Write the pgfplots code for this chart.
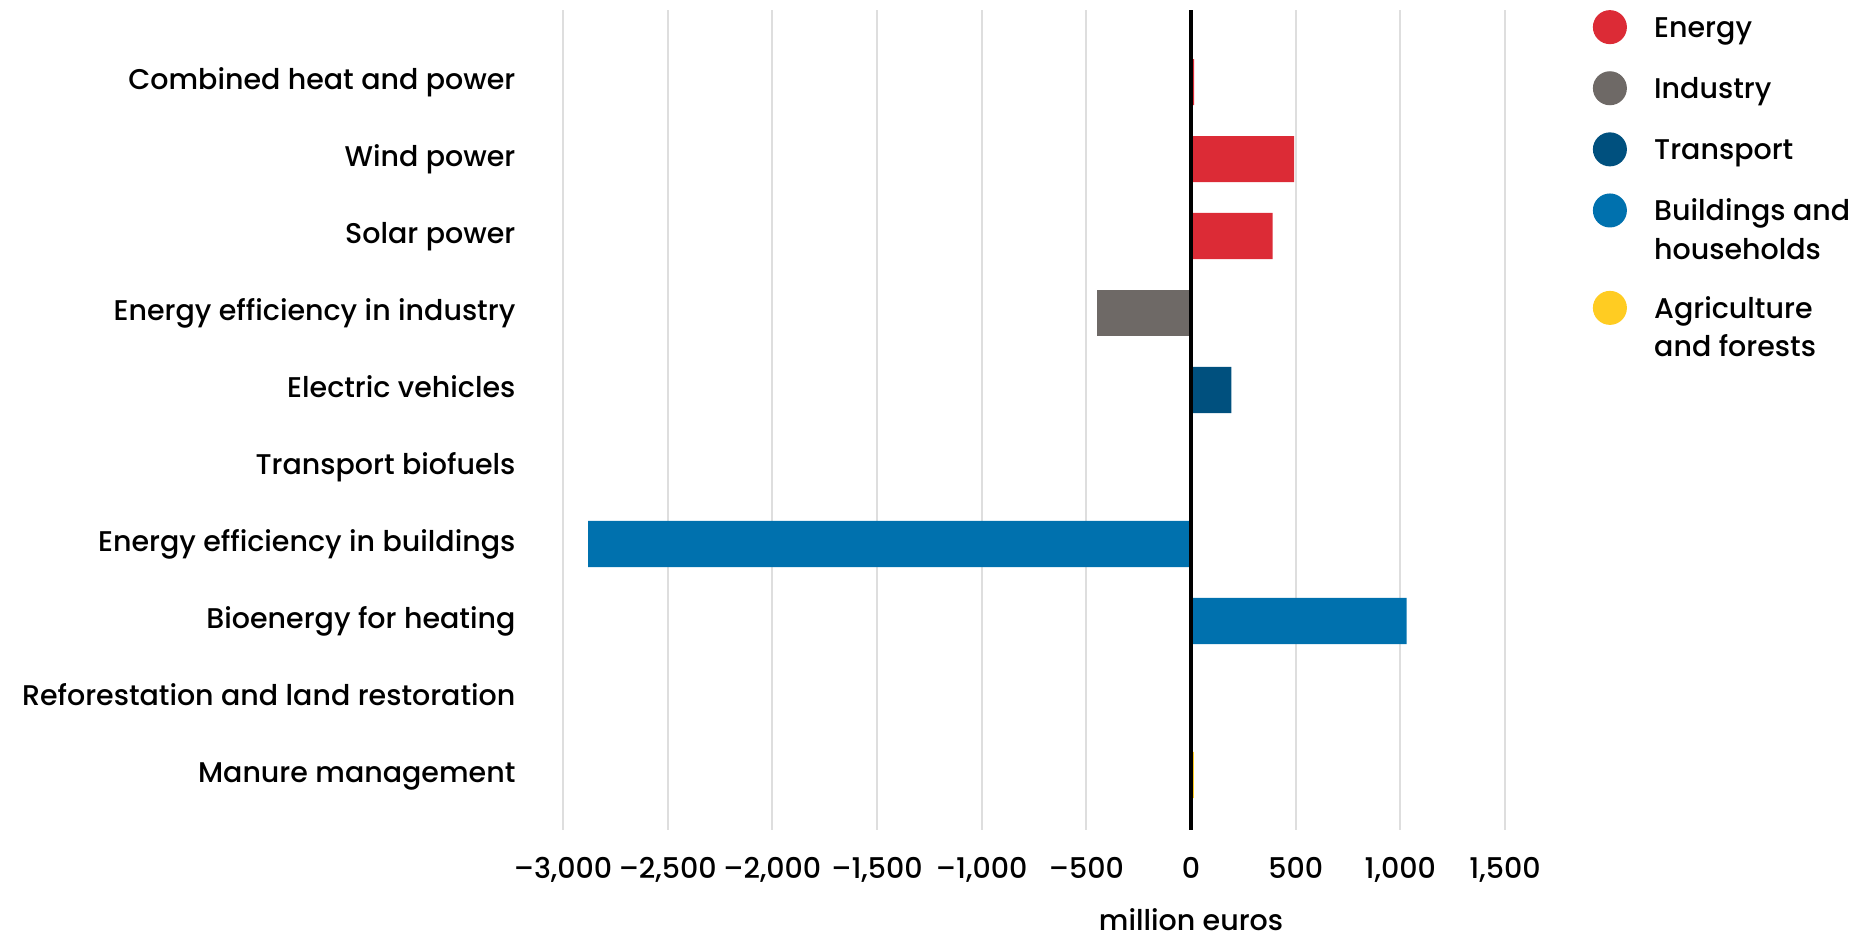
\documentclass[border=0pt]{standalone}
\usepackage{fontspec}
\setmainfont{Poppins}[UprightFont={* Medium}]
\usepackage{pgfplots}
\pgfplotsset{compat=1.18}
\definecolor{cEnergy}{HTML}{DC2B36}
\definecolor{cIndustry}{HTML}{6E6966}
\definecolor{cTransport}{HTML}{00507E}
\definecolor{cBuild}{HTML}{0071AE}
\definecolor{cAgri}{HTML}{FFCC22}
\definecolor{cGrid}{HTML}{DEDEDE}
\newcommand\firstrow{\rule[-3pt]{0pt}{9.4pt}}
\newcommand\newrow{\rule[-3pt]{0pt}{21.1pt}}
\newcommand\controw{\rule[-3pt]{0pt}{13.6pt}}
\pgfplotsset{legcirc/.style={legend image code/.code={\fill[#1] (5.67pt,3.4pt) circle (5.67pt);}}}
\begin{document}
\begin{tikzpicture}
\begin{axis}[
  name=ax,
  scale only axis,
  width=314pt, height=273.3pt,
  xmin=-3000, xmax=1500,
  ymin=-0.935, ymax=9.714,
  y dir=reverse,
  xbar, bar shift=0pt, bar width=0.6,
  axis line style={draw=none},
  major tick length=0pt,
  xmajorgrids,
  major grid style={cGrid, line width=0.67pt},
  xtick={-3000,-2500,-2000,-1500,-1000,-500,0,500,1000,1500},
  xticklabels={{–3,000},{–2,500},{–2,000},{–1,500},{–1,000},{–500},{0},{500},{1,000},{1,500}},
  ytick={0,...,9},
  yticklabels={Combined heat and power,Wind power,Solar power,Energy efficiency in industry,Electric vehicles,Transport biofuels,Energy efficiency in buildings,Bioenergy for heating,Reforestation and land restoration,Manure management},
  font=\fontsize{9.5}{11}\selectfont,
  xticklabel style={anchor=base, inner sep=0pt, yshift=-16.3pt},
  yticklabel style={anchor=base east, inner sep=0pt, xshift=-15.67pt, yshift=-2.5pt},
  xlabel={million euros},
  every axis x label/.style={at={(axis description cs:0.6667,0)}, anchor=base, inner sep=0pt, yshift=-33.6pt},
  clip=false,
  legend cell align=left,
  legend style={draw=none, fill=none, at={(1,1)}, anchor=north west, xshift=29.3pt, yshift=0pt,
    inner sep=0pt, outer sep=0pt, row sep=0pt, column sep=9.1pt,
    nodes={inner sep=0pt, outer sep=0pt}, cells={anchor=base west}},
]
\addplot[draw=none, fill=cEnergy, legcirc=cEnergy] coordinates {(15,0) (493,1) (390,2)};
\addlegendentry{\firstrow Energy}
\addplot[draw=none, fill=cIndustry, legcirc=cIndustry] coordinates {(-450,3)};
\addlegendentry{\newrow Industry}
\addplot[draw=none, fill=cTransport, legcirc=cTransport] coordinates {(193,4) (0,5)};
\addlegendentry{\newrow Transport}
\addplot[draw=none, fill=cBuild, legcirc=cBuild] coordinates {(-2880,6) (1030,7)};
\addlegendentry{\newrow Buildings and}
\addlegendimage{empty legend}
\addlegendentry{\controw households}
\addplot[draw=none, fill=cAgri, legcirc=cAgri] coordinates {(0,8) (14,9)};
\addlegendentry{\newrow Agriculture}
\addlegendimage{empty legend}
\addlegendentry{\controw and forests}
\draw[black, line width=1.1pt] (axis cs:0,-0.935) -- (axis cs:0,9.714);
\end{axis}
\pgfresetboundingbox
\path (ax.south west) ++(-187.67pt,-36pt) rectangle ++(617.67pt,312.67pt);
\end{tikzpicture}
\end{document}
